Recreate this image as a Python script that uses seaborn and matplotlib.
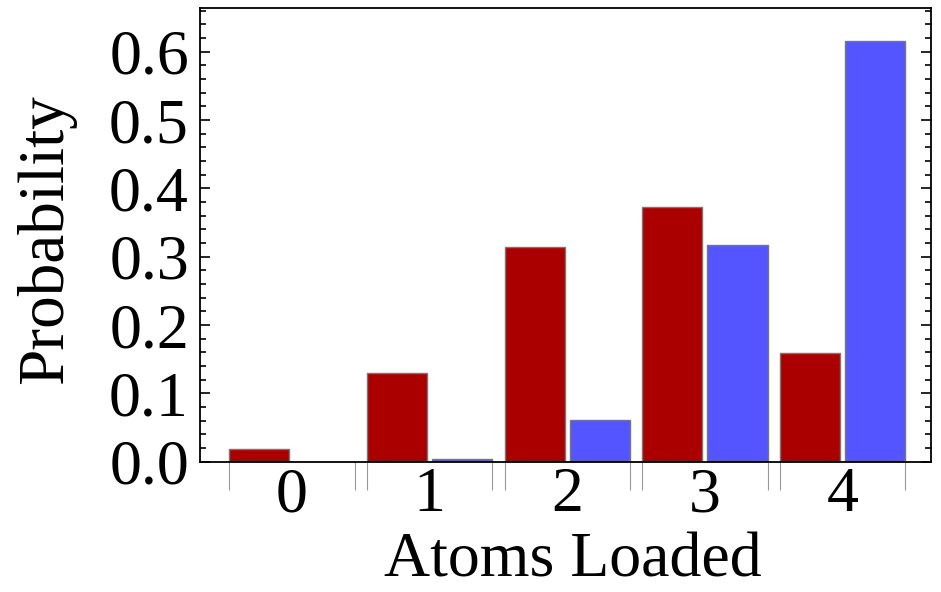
import matplotlib
matplotlib.use("Agg")
import numpy as np
import pandas as pd
import seaborn as sns
import matplotlib.pyplot as plt
from matplotlib.ticker import MultipleLocator, FormatStrFormatter

# values
atoms = [0, 1, 2, 3, 4]
red_prob = [0.018, 0.130, 0.314, 0.373, 0.159]
blue_prob = [0.0, 0.0035, 0.061, 0.317, 0.615]
series = ["red", "blue"]

df = pd.DataFrame({
    "atoms": atoms * 2,
    "prob": red_prob + blue_prob,
    "series": [series[0]] * len(atoms) + [series[1]] * len(atoms),
})

sns.set_style("ticks")
plt.rcParams["font.family"] = ["Liberation Serif", "DejaVu Serif"]
plt.rcParams["axes.edgecolor"] = "black"
plt.rcParams["text.color"] = "black"
plt.rcParams["axes.labelcolor"] = "black"
plt.rcParams["xtick.color"] = "black"
plt.rcParams["ytick.color"] = "black"

fig, ax = plt.subplots(figsize=(9.41, 5.92), dpi=100)
fig.subplots_adjust(left=0.2126, right=0.989, top=0.9865, bottom=0.22)

sns.barplot(data=df, x="atoms", y="prob", hue="series", hue_order=series,
            palette={"red": "#aa0000", "blue": "#5555ff"}, saturation=1,
            width=0.948, gap=0.077, edgecolor="#777777", linewidth=1,
            errorbar=None, legend=False, ax=ax)

ax.set_xlim(-0.668, 4.64)
ax.set_ylim(0, 0.664)

# grey marks at the outer edges of every group
half = 0.456
edges = []
for i in range(len(atoms)):
    edges += [i - half, i + half]
ax.set_xticks(range(len(atoms)))
ax.set_xticklabels([str(a) for a in atoms])
ax.set_xticks(edges, minor=True)
ax.tick_params(axis="x", which="major", length=0, labelsize=46, pad=4)
ax.tick_params(axis="x", which="minor", direction="out", length=20,
               color="#999999", width=0.8, bottom=True, top=False)

ax.yaxis.set_major_locator(MultipleLocator(0.1))
ax.yaxis.set_minor_locator(MultipleLocator(0.02))
ax.yaxis.set_major_formatter(FormatStrFormatter("%.1f"))
ax.tick_params(axis="y", which="both", direction="in", left=True, right=True,
               width=1.2, labelsize=46, pad=8)
ax.tick_params(axis="y", which="major", length=7)
ax.tick_params(axis="y", which="minor", length=4)

for s in ax.spines.values():
    s.set_visible(True)
    s.set_linewidth(1.3)
    s.set_color("black")

ax.set_xlabel("Atoms Loaded", fontsize=46)
ax.set_ylabel("Probability", fontsize=47)
ax.xaxis.set_label_coords(0.51, -0.156)
ax.yaxis.set_label_coords(-0.17, 0.49)

fig.savefig("out.png", dpi=100)
